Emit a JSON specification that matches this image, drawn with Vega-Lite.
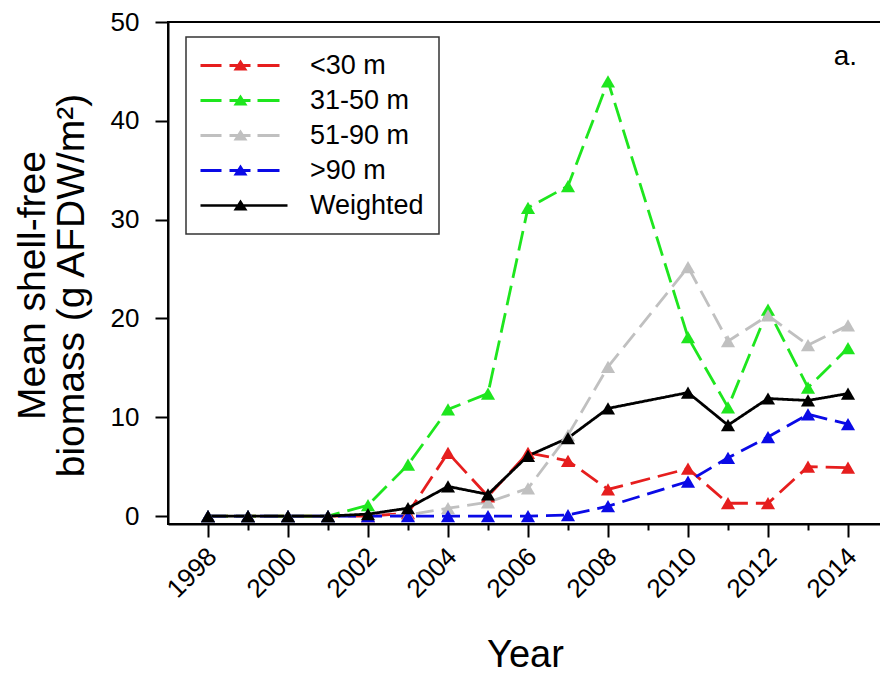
{
  "$schema": "https://vega.github.io/schema/vega-lite/v6.json",
  "autosize": {"type": "none"},
  "width": 714,
  "height": 502,
  "padding": {"left": 168, "top": 22, "right": 0, "bottom": 149},
  "background": "white",
  "title": {"text": "a.", "orient": "top", "anchor": "end", "frame": "group", "fontSize": 28, "font": "Liberation Sans", "fontWeight": "normal", "color": "black", "offset": -38, "baseline": "alphabetic", "dy": 46, "dx": -25},
  "config": {
    "view": {"stroke": "black", "strokeWidth": 2},
    "axis": {"grid": false, "domainColor": "black", "domainWidth": 2, "tickColor": "black", "tickWidth": 2, "labelColor": "black", "titleColor": "black", "labelFont": "Liberation Sans", "titleFont": "Liberation Sans", "titleFontWeight": "normal", "labelFontSize": 26, "titleFontSize": 38}
  },
  "data": {"values": [
    {"year": 1998, "series": "<30 m", "value": 0},
    {"year": 1999, "series": "<30 m", "value": 0},
    {"year": 2000, "series": "<30 m", "value": 0},
    {"year": 2001, "series": "<30 m", "value": 0},
    {"year": 2002, "series": "<30 m", "value": 0},
    {"year": 2003, "series": "<30 m", "value": 0.3},
    {"year": 2004, "series": "<30 m", "value": 6.4},
    {"year": 2005, "series": "<30 m", "value": 2.0},
    {"year": 2006, "series": "<30 m", "value": 6.4},
    {"year": 2007, "series": "<30 m", "value": 5.6},
    {"year": 2008, "series": "<30 m", "value": 2.7},
    {"year": 2010, "series": "<30 m", "value": 4.8},
    {"year": 2011, "series": "<30 m", "value": 1.3},
    {"year": 2012, "series": "<30 m", "value": 1.3},
    {"year": 2013, "series": "<30 m", "value": 5.0},
    {"year": 2014, "series": "<30 m", "value": 4.9},
    {"year": 1998, "series": "31-50 m", "value": 0},
    {"year": 1999, "series": "31-50 m", "value": 0},
    {"year": 2000, "series": "31-50 m", "value": 0},
    {"year": 2001, "series": "31-50 m", "value": 0},
    {"year": 2002, "series": "31-50 m", "value": 1.1},
    {"year": 2003, "series": "31-50 m", "value": 5.2},
    {"year": 2004, "series": "31-50 m", "value": 10.8},
    {"year": 2005, "series": "31-50 m", "value": 12.4},
    {"year": 2006, "series": "31-50 m", "value": 31.2},
    {"year": 2007, "series": "31-50 m", "value": 33.4},
    {"year": 2008, "series": "31-50 m", "value": 44.0},
    {"year": 2010, "series": "31-50 m", "value": 18.1},
    {"year": 2011, "series": "31-50 m", "value": 11.0},
    {"year": 2012, "series": "31-50 m", "value": 20.9},
    {"year": 2013, "series": "31-50 m", "value": 13.0},
    {"year": 2014, "series": "31-50 m", "value": 17.0},
    {"year": 1998, "series": "51-90 m", "value": 0},
    {"year": 1999, "series": "51-90 m", "value": 0},
    {"year": 2000, "series": "51-90 m", "value": 0},
    {"year": 2001, "series": "51-90 m", "value": 0},
    {"year": 2002, "series": "51-90 m", "value": 0},
    {"year": 2003, "series": "51-90 m", "value": 0.1},
    {"year": 2004, "series": "51-90 m", "value": 0.8},
    {"year": 2005, "series": "51-90 m", "value": 1.4},
    {"year": 2006, "series": "51-90 m", "value": 2.8},
    {"year": 2007, "series": "51-90 m", "value": 8.2},
    {"year": 2008, "series": "51-90 m", "value": 15.1},
    {"year": 2010, "series": "51-90 m", "value": 25.2},
    {"year": 2011, "series": "51-90 m", "value": 17.7},
    {"year": 2012, "series": "51-90 m", "value": 20.3},
    {"year": 2013, "series": "51-90 m", "value": 17.3},
    {"year": 2014, "series": "51-90 m", "value": 19.3},
    {"year": 1998, "series": ">90 m", "value": 0},
    {"year": 1999, "series": ">90 m", "value": 0},
    {"year": 2000, "series": ">90 m", "value": 0},
    {"year": 2001, "series": ">90 m", "value": 0},
    {"year": 2002, "series": ">90 m", "value": 0},
    {"year": 2003, "series": ">90 m", "value": 0},
    {"year": 2004, "series": ">90 m", "value": 0},
    {"year": 2005, "series": ">90 m", "value": 0},
    {"year": 2006, "series": ">90 m", "value": 0},
    {"year": 2007, "series": ">90 m", "value": 0.1},
    {"year": 2008, "series": ">90 m", "value": 1.0},
    {"year": 2010, "series": ">90 m", "value": 3.5},
    {"year": 2011, "series": ">90 m", "value": 5.9},
    {"year": 2012, "series": ">90 m", "value": 8.0},
    {"year": 2013, "series": ">90 m", "value": 10.3},
    {"year": 2014, "series": ">90 m", "value": 9.3},
    {"year": 1998, "series": "Weighted", "value": 0},
    {"year": 1999, "series": "Weighted", "value": 0},
    {"year": 2000, "series": "Weighted", "value": 0},
    {"year": 2001, "series": "Weighted", "value": 0},
    {"year": 2002, "series": "Weighted", "value": 0.2},
    {"year": 2003, "series": "Weighted", "value": 0.8},
    {"year": 2004, "series": "Weighted", "value": 3.0},
    {"year": 2005, "series": "Weighted", "value": 2.2},
    {"year": 2006, "series": "Weighted", "value": 6.1},
    {"year": 2007, "series": "Weighted", "value": 7.9},
    {"year": 2008, "series": "Weighted", "value": 10.9},
    {"year": 2010, "series": "Weighted", "value": 12.5},
    {"year": 2011, "series": "Weighted", "value": 9.2},
    {"year": 2012, "series": "Weighted", "value": 11.9},
    {"year": 2013, "series": "Weighted", "value": 11.7},
    {"year": 2014, "series": "Weighted", "value": 12.4}
  ]},
  "encoding": {
    "x": {"field": "year", "type": "quantitative",
      "scale": {"domain": [1997, 2014.85], "nice": false, "zero": false},
      "axis": {"title": "Year", "values": [1998,1999,2000,2001,2002,2003,2004,2005,2006,2007,2008,2009,2010,2011,2012,2013,2014],
        "format": "d", "labelExpr": "datum.value % 2 === 0 ? datum.label : ''",
        "tickSize": {"condition": {"test": "datum.value % 2 === 0", "value": 13}, "value": 6},
        "labelAngle": -45, "labelPadding": 6, "labelOffset": -5, "labelFlush": false, "labelOverlap": false,
        "titleX": 357, "titleY": 142, "titleBaseline": "alphabetic"}},
    "y": {"field": "value", "type": "quantitative",
      "scale": {"domain": [-0.8, 50], "nice": false, "zero": false},
      "axis": {"title": ["Mean shell-free", "biomass (g AFDW/m²)"], "values": [0,10,20,30,40,50], "tickSize": 13, "labelPadding": 16, "labelFlush": false,
        "titleX": -116, "titleY": 263, "titleAlign": "center", "titleLineHeight": 39, "titleFontSize": 39}}
  },
  "layer": [
    {
      "mark": {"type": "line", "strokeWidth": 2.8},
      "encoding": {
        "color": {"field": "series", "type": "nominal",
          "scale": {"domain": ["<30 m","31-50 m","51-90 m",">90 m","Weighted"], "range": ["#e61e1e","#1ee61e","#c0c0c0","#0a0ae6","#000000"]}},
        "strokeDash": {"field": "series", "type": "nominal",
          "scale": {"domain": ["<30 m","31-50 m","51-90 m",">90 m","Weighted"], "range": [[20,8],[20,8],[18,8],[18,8],[1,0]]}}
      }
    },
    {
      "mark": {"type": "point", "shape": "triangle-up", "filled": true, "size": 200, "opacity": 1},
      "encoding": {
        "color": {"field": "series", "type": "nominal"}
      }
    },
    {
      "mark": {"type": "point", "filled": true, "size": 64, "opacity": 0},
      "encoding": {
        "color": {"field": "series", "type": "nominal",
          "legend": {"title": null, "orient": "none", "legendX": 18, "legendY": 15, "padding": 15, "strokeColor": "#333333", "fillColor": "white",
            "labelFont": "Liberation Sans", "labelFontSize": 27, "labelColor": "black", "labelOffset": 82, "rowPadding": 7, "symbolSize": 64, "symbolStrokeWidth": 0, "symbolOpacity": 1,
            "encode": {"symbols": {"update": {"opacity": {"value": 1}, "strokeWidth": {"value": 0}}}, "legend": {"update": {"strokeWidth": {"value": 1.5}}}}}},
        "shape": {"field": "series", "type": "nominal",
          "scale": {"domain": ["<30 m","31-50 m","51-90 m",">90 m","Weighted"], "range": [
            "M-3.5,-0.375H1.75V0.375H-3.5Z M3.75,-0.375H9V0.375H3.75Z M10.75,-0.375H16.25V0.375H10.75Z M6.5,-1.5L8.25,1.25H4.75Z",
            "M-3.5,-0.375H1.75V0.375H-3.5Z M3.75,-0.375H9V0.375H3.75Z M10.75,-0.375H16.25V0.375H10.75Z M6.5,-1.5L8.25,1.25H4.75Z",
            "M-3.5,-0.375H1.75V0.375H-3.5Z M3.75,-0.375H9V0.375H3.75Z M10.75,-0.375H16.25V0.375H10.75Z M6.5,-1.5L8.25,1.25H4.75Z",
            "M-3.5,-0.375H1.75V0.375H-3.5Z M3.75,-0.375H9V0.375H3.75Z M10.75,-0.375H16.25V0.375H10.75Z M6.5,-1.5L8.25,1.25H4.75Z",
            "M-3.5,-0.3H18.25V0.3H-3.5Z M6.5,-1.5L8.25,1.25H4.75Z"]},
          "legend": {"title": null, "orient": "none", "legendX": 18, "legendY": 15, "padding": 15, "strokeColor": "#333333", "fillColor": "white",
            "labelFont": "Liberation Sans", "labelFontSize": 27, "labelColor": "black", "labelOffset": 82, "rowPadding": 7, "symbolSize": 64, "symbolStrokeWidth": 0, "symbolOpacity": 1,
            "encode": {"symbols": {"update": {"opacity": {"value": 1}, "strokeWidth": {"value": 0}}}, "legend": {"update": {"strokeWidth": {"value": 1.5}}}}}}
      }
    }
  ]
}
